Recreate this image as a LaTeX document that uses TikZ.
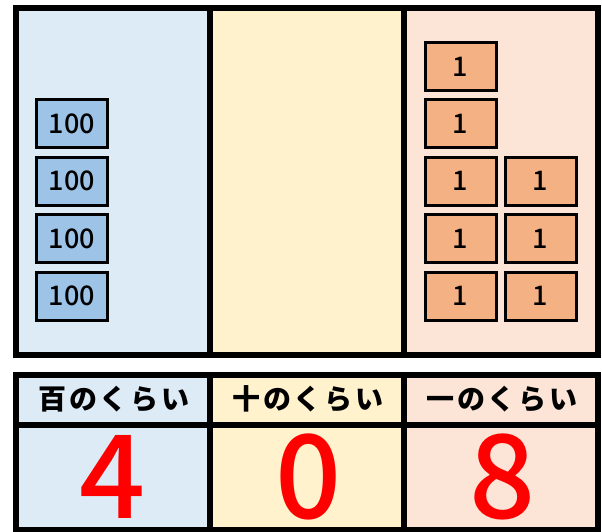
\documentclass[tikz,border=0pt]{standalone}
\usepackage{fontspec}
\newfontfamily\jpfont{Noto Sans CJK JP}[LetterSpace=10]
\newfontfamily\numfont{Noto Sans CJK JP Medium}
\definecolor{hundredbg}{HTML}{DDEBF7}
\definecolor{tenbg}{HTML}{FFF2CC}
\definecolor{onebg}{HTML}{FCE4D6}
\definecolor{hundredtile}{HTML}{9DC3E6}
\definecolor{onetile}{HTML}{F4B183}
\tikzset{
  tile/.style={draw=black,line width=3pt,minimum width=71pt,minimum height=48pt,inner sep=0pt,font=\numfont\fontsize{27}{27}\selectfont},
  tilehundred/.style={tile,fill=hundredtile},
  tileone/.style={tile,fill=onetile},
  frame/.style={draw=black,line width=6pt},
  header/.style={font=\jpfont\bfseries\fontsize{28}{28}\selectfont},
  digit/.style={text=red,font=\numfont\fontsize{116}{116}\selectfont}
}
\begin{document}
\begin{tikzpicture}[x=1pt,y=-1pt]
\useasboundingbox (0,0) rectangle (602,532);
% counting board
\fill[hundredbg] (16,8) rectangle (210,355);
\fill[tenbg] (210,8) rectangle (404,355);
\fill[onebg] (404,8) rectangle (598,355);
\draw[frame] (16,8) rectangle (598,355);
\draw[frame] (210,8) -- (210,355);
\draw[frame] (404,8) -- (404,355);
% hundreds
\node[tilehundred] (h1) at (72,123.5) {100};
\node[tilehundred] (h2) at (72,181) {100};
\node[tilehundred] (h3) at (72,238.5) {100};
\node[tilehundred] (h4) at (72,296) {100};
% ones
\node[tileone] (o1) at (460.5,66.5) {1};
\node[tileone] (o2) at (460.5,123.5) {1};
\node[tileone] (o3) at (460.5,181) {1};
\node[tileone] (o4) at (460.5,238.5) {1};
\node[tileone] (o5) at (460.5,296) {1};
\node[tileone] (o6) at (540.5,181) {1};
\node[tileone] (o7) at (540.5,238.5) {1};
\node[tileone] (o8) at (540.5,296) {1};
% place value table
\fill[hundredbg] (16,374.5) rectangle (210,530);
\fill[tenbg] (210,374.5) rectangle (404,530);
\fill[onebg] (404,374.5) rectangle (598,530);
\draw[frame] (16,374.5) rectangle (598,530);
\draw[frame] (16,424.5) -- (598,424.5);
\draw[frame] (210,374.5) -- (210,530);
\draw[frame] (404,374.5) -- (404,530);
\node[header] (hd1) at (114,399) {百のくらい};
\node[header] (hd2) at (308,399) {十のくらい};
\node[header] (hd3) at (502,399) {一のくらい};
\node[digit] (d1) at (113,477) {4};
\node[digit] (d2) at (308.5,477) {0};
\node[digit] (d3) at (503,477) {8};
\end{tikzpicture}
\end{document}
